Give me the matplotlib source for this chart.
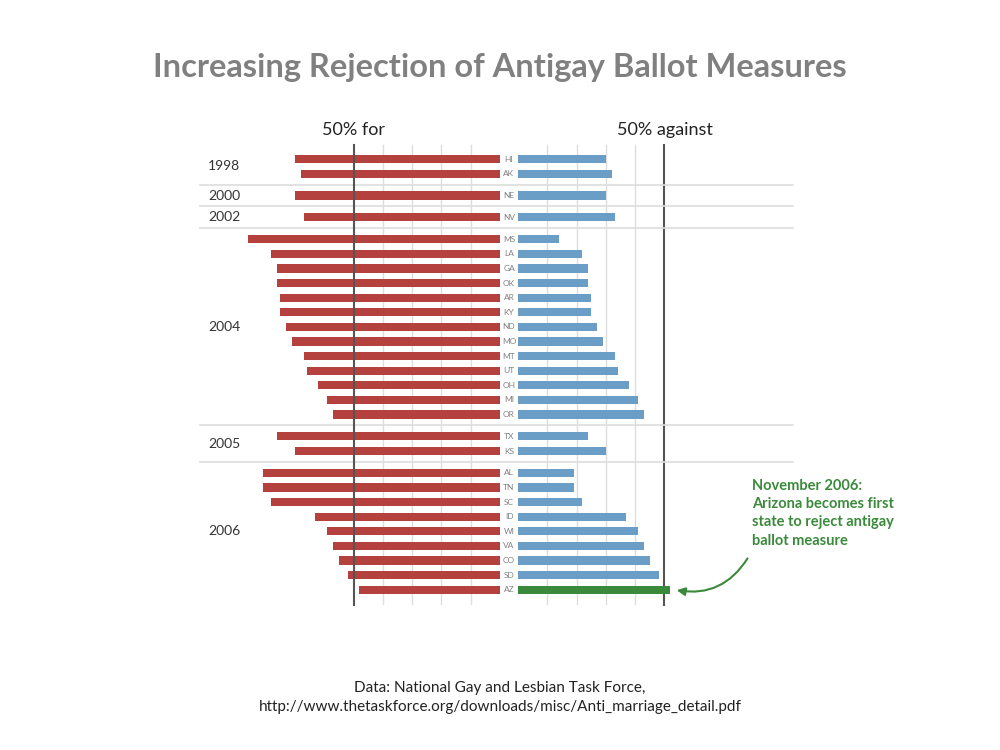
import numpy as np
import matplotlib.pyplot as plt

plt.rcParams['font.family'] = ['Lato', 'DejaVu Sans']

# groups of ballot measures by year
years = ["1998", "2000", "2002", "2004", "2005", "2006"]
states = [
    ["HI", "AK"],
    ["NE"],
    ["NV"],
    ["MS", "LA", "GA", "OK", "AR", "KY", "ND", "MO", "MT", "UT", "OH", "MI", "OR"],
    ["TX", "KS"],
    ["AL", "TN", "SC", "ID", "WI", "VA", "CO", "SD", "AZ"],
]
pct_for = [
    [70, 68],
    [70],
    [67],
    [86, 78, 76, 76, 75, 75, 73, 71, 67, 66, 62, 59, 57],
    [76, 70],
    [81, 81, 78, 63, 59, 57, 55, 52, 48],
]
pct_against = [
    [30, 32],
    [30],
    [33],
    [14, 22, 24, 24, 25, 25, 27, 29, 33, 34, 38, 41, 43],
    [24, 30],
    [19, 19, 22, 37, 41, 43, 45, 48, 52],
]

RED = "#b5413f"
BLUE = "#6a9ec6"
GREEN = "#3b8a3b"
GAP = 3.07
PX = 2.93  # px per percent point
ROW = 14.6  # px per row

fig = plt.figure(figsize=(10, 7.5), dpi=100)
ax = fig.add_axes([0, 0, 1, 1])
ax.set_xlim(-509 / PX, 491 / PX)
ax.set_ylim((750 - 159) / ROW, -159 / ROW)
ax.axis("off")

# row positions with a gap between year groups
pos = []
y = 0.0
for g in states:
    pos.append([y + i for i in range(len(g))])
    y += len(g) - 1 + 1.5

ytop, ybot = (145 - 159) / ROW, (604 - 159) / ROW

# vertical grid
for k in range(1, 5):
    ax.plot([-GAP - 10 * k] * 2, [ytop, ybot], color="#dddddd", lw=1, zorder=0)
    ax.plot([GAP + 10 * k] * 2, [ytop, ybot], color="#dddddd", lw=1, zorder=0)
ax.plot([-GAP - 50] * 2, [ytop, ybot + 0.1], color="#555555", lw=1.5, zorder=3)
ax.plot([GAP + 50] * 2, [ytop, ybot + 0.1], color="#555555", lw=1.5, zorder=0)

# separators between year groups
for i in range(len(states) - 1):
    ys = (pos[i][-1] + pos[i + 1][0]) / 2
    ax.plot([(200 - 509) / PX, (793 - 509) / PX], [ys, ys], color="#dddddd", lw=1.2, zorder=0)

for gi, g in enumerate(states):
    ys = pos[gi]
    cols = [GREEN if s == "AZ" else BLUE for s in g]
    ax.barh(ys, [-v for v in pct_for[gi]], left=-GAP, height=0.56, color=RED, zorder=2)
    ax.barh(ys, pct_against[gi], left=GAP, height=0.56, color=cols, zorder=2)
    for s, yy in zip(g, ys):
        ax.text(0, yy, s, ha="center", va="center", fontsize=6, color="#808080")
    ax.text((208 - 509) / PX, np.mean(ys), years[gi], ha="left", va="center",
            fontsize=10, color="#333333")

ax.text(-GAP - 50, (130 - 159) / ROW, "50% for", ha="center", va="center",
        fontsize=13, color="#222222")
ax.text(GAP + 50, (130 - 159) / ROW, "50% against", ha="center", va="center",
        fontsize=13, color="#222222")

fig.text(0.5, 1 - 67 / 750, "Increasing Rejection of Antigay Ballot Measures",
         ha="center", va="center", fontsize=23.5, fontweight="bold", color="#808080")

# annotation for Arizona
az_y = pos[-1][-1]
ax.text((752 - 509) / PX, (479 - 159) / ROW,
        "November 2006:\nArizona becomes first\nstate to reject antigay\nballot measure",
        ha="left", va="top", fontsize=10.5, fontweight="bold", color=GREEN, linespacing=1.38)
ax.annotate("", xy=((674 - 509) / PX, az_y), xytext=((749 - 509) / PX, (556 - 159) / ROW),
            arrowprops=dict(arrowstyle="-|>", color=GREEN, lw=1.5,
                            connectionstyle="arc3,rad=-0.35", mutation_scale=12))

fig.text(0.5, 1 - 688 / 750, "Data: National Gay and Lesbian Task Force,",
         ha="center", va="center", fontsize=11, color="#222222")
fig.text(0.5, 1 - 707 / 750,
         "http://www.thetaskforce.org/downloads/misc/Anti_marriage_detail.pdf",
         ha="center", va="center", fontsize=11, color="#222222")

fig.savefig("out.png", dpi=100)
